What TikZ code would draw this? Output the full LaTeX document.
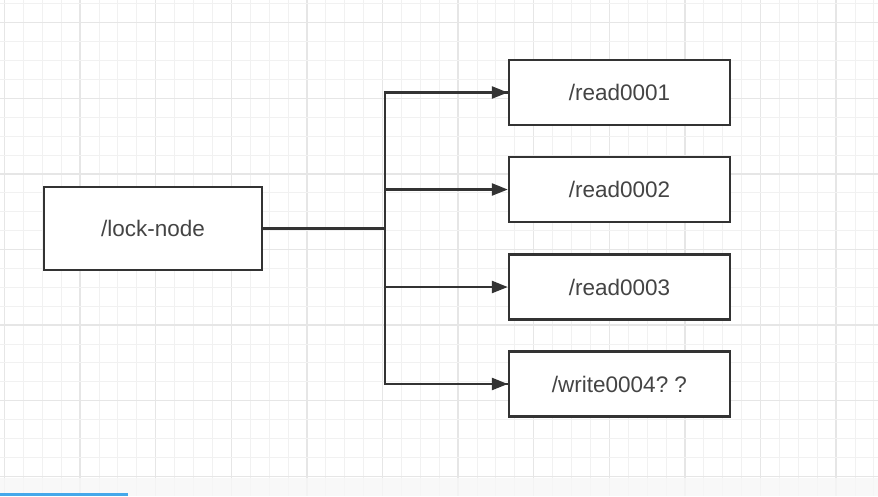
\documentclass[tikz,border=0pt]{standalone}
\usepackage{fontspec}
\setmainfont{Liberation Sans}
\usetikzlibrary{arrows.meta}

\definecolor{gridminor}{HTML}{F1F1F1}
\definecolor{gridmajor}{HTML}{E6E6E6}
\definecolor{linegray}{HTML}{333333}
\definecolor{textgray}{HTML}{444444}
\definecolor{barblue}{HTML}{45A8EA}

\tikzset{
  zbox/.style={draw=linegray, line width=2.4pt, fill=white, text=textgray,
    minimum width=221pt, minimum height=65pt, inner sep=0pt,
    font=\fontsize{22.5}{27}\selectfont},
  link/.style={draw=linegray, line width=2.4pt},
  arrow/.style={link, -{Triangle[length=16pt,width=12pt]}}
}

\begin{document}
\begin{tikzpicture}[x=1pt, y=-1pt]

\useasboundingbox (0,0) rectangle (878,496);
\fill[white] (0,0) rectangle (878,496);

%% grid
\foreach \k in {0,...,46} {
  \pgfmathtruncatemacro{\m}{mod(\k,4)}
  \ifnum\m=0
    \draw[gridmajor, line width=1.5pt] (4.5+18.9*\k,0) -- (4.5+18.9*\k,496);
  \else
    \draw[gridminor, line width=1pt] (4.5+18.9*\k,0) -- (4.5+18.9*\k,496);
  \fi
}
\foreach \j in {0,...,25} {
  \pgfmathtruncatemacro{\m}{mod(\j,4)}
  \ifnum\m=1
    \draw[gridmajor, line width=1.5pt] (0,3.8+18.9*\j) -- (878,3.8+18.9*\j);
  \else
    \draw[gridminor, line width=1pt] (0,3.8+18.9*\j) -- (878,3.8+18.9*\j);
  \fi
}

%% bottom strip
\fill[gray!6, opacity=0.8] (0,478) rectangle (878,496);
\fill[barblue] (0,493) rectangle (128,496);

%% nodes
\node[zbox, minimum width=218pt, minimum height=83pt] (lock) at (153,228.5) {/lock-node};
\node[zbox] (read1) at (619.5,92.5) {/read0001};
\node[zbox] (read2) at (619.5,189.5) {/read0002};
\node[zbox] (read3) at (619.5,287) {/read0003};
\node[zbox] (write4) at (619.5,384) {/write0004?\ ?};

%% trunk
\coordinate (fork) at (385,228.5);
\draw[link] (lock.east) -- (fork);
\draw[link] (fork) |- (read1.west);
\draw[link] (fork) |- (write4.west);

%% arrows
\draw[arrow] (fork |- read1.west) -- (read1.west);
\draw[arrow] (fork |- read2.west) -- (read2.west);
\draw[arrow] (fork |- read3.west) -- (read3.west);
\draw[arrow] (fork |- write4.west) -- (write4.west);

\end{tikzpicture}
\end{document}
